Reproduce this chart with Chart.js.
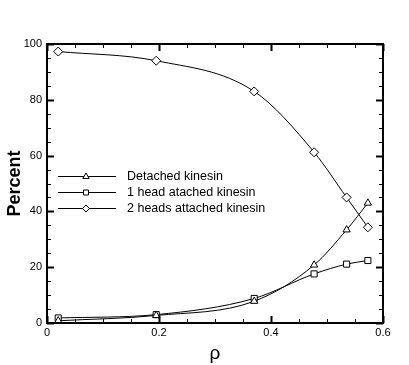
<!DOCTYPE html>
<html>
<head>
<meta charset="utf-8">
<script src="https://cdn.jsdelivr.net/npm/chart.js@4.4.0/dist/chart.umd.min.js"></script>
<style>
  html, body { margin: 0; padding: 0; background: #fff; }
</style>
</head>
<body>
<canvas id="grafico" width="409" height="365"></canvas>
<script>
// dados
const rho = [0.02, 0.195, 0.37, 0.477, 0.535, 0.573];
const detached = [0.8, 2.7, 7.8, 20.8, 33.4, 43.0];
const oneHead = [1.8, 3.0, 8.8, 17.6, 21.1, 22.4];
const twoHeads = [97.3, 94.0, 83.0, 61.2, 45.0, 34.3];
const seriesNames = ["Detached kinesin", "1 head atached kinesin", "2 heads attached kinesin"];
const xTicks = [0, 0.2, 0.4, 0.6];
const yTicks = [0, 20, 40, 60, 80, 100];

const FONT = "'Liberation Sans', Arial, sans-serif";

function pontos(ys) {
    return rho.map((x, i) => ({ x: x, y: ys[i] }));
}

function serie(label, ys, style, radius) {
    return {
        label: label,
        data: pontos(ys),
        showLine: true,
        borderColor: "#000",
        borderWidth: 1,
        backgroundColor: "#fff",
        pointStyle: style,
        pointRadius: radius,
        pointBorderWidth: 1,
        pointBorderColor: "#000",
        pointBackgroundColor: "#fff",
        cubicInterpolationMode: "monotone"
    };
}

// marcador pequeno para a legenda
function desenhaMarcador(ctx, style, x, y) {
    ctx.beginPath();
    if (style === "triangle") {
        ctx.moveTo(x, y - 3.5);
        ctx.lineTo(x + 3.2, y + 2);
        ctx.lineTo(x - 3.2, y + 2);
        ctx.closePath();
    } else if (style === "rect") {
        ctx.rect(x - 2.5, y - 2.5, 5, 5);
    } else {
        ctx.moveTo(x, y - 3.5);
        ctx.lineTo(x + 3.5, y);
        ctx.lineTo(x, y + 3.5);
        ctx.lineTo(x - 3.5, y);
        ctx.closePath();
    }
    ctx.fillStyle = "#fff";
    ctx.fill();
    ctx.stroke();
}

// moldura e ticks para dentro, nos quatro lados
const molduraPlugin = {
    id: "moldura",
    afterDraw(chart) {
        const ctx = chart.ctx;
        const a = chart.chartArea;
        const sx = chart.scales.x;
        const sy = chart.scales.y;
        ctx.save();
        ctx.strokeStyle = "#000";

        for (let v = 0; v <= 0.6001; v += 0.05) {
            const px = Math.round(sx.getPixelForValue(v)) + 0.5;
            const major = xTicks.some(t => Math.abs(t - v) < 1e-6);
            const len = major ? 7 : 4;
            ctx.lineWidth = major ? 2 : 1;
            ctx.beginPath();
            ctx.moveTo(px, a.bottom); ctx.lineTo(px, a.bottom - len);
            ctx.moveTo(px, a.top); ctx.lineTo(px, a.top + len);
            ctx.stroke();
        }
        for (let v = 0; v <= 100.001; v += 5) {
            const py = Math.round(sy.getPixelForValue(v)) + 0.5;
            const major = yTicks.includes(Math.round(v));
            const len = major ? 7 : 4;
            ctx.lineWidth = major ? 2 : 1;
            ctx.beginPath();
            ctx.moveTo(a.left, py); ctx.lineTo(a.left + len, py);
            ctx.moveTo(a.right, py); ctx.lineTo(a.right - len, py);
            ctx.stroke();
        }

        ctx.lineWidth = 2;
        ctx.strokeRect(a.left, a.top, a.right - a.left, a.bottom - a.top);

        // legenda dentro do gráfico
        const estilos = ["triangle", "rect", "rectRot"];
        ctx.lineWidth = 1;
        ctx.font = "12.5px " + FONT;
        ctx.textBaseline = "middle";
        seriesNames.forEach((nome, i) => {
            const y = 176.5 + i * 16;
            ctx.beginPath();
            ctx.moveTo(58, y); ctx.lineTo(116, y);
            ctx.stroke();
            desenhaMarcador(ctx, estilos[i], 86, y);
            ctx.fillStyle = "#000";
            ctx.fillText(nome, 127, y);
        });
        ctx.restore();
    }
};

new Chart(document.getElementById("grafico"), {
    type: "scatter",
    data: {
        datasets: [
            serie(seriesNames[0], detached, "triangle", 4.2),
            serie(seriesNames[1], oneHead, "rect", 4.3),
            serie(seriesNames[2], twoHeads, "rectRot", 4.5)
        ]
    },
    options: {
        responsive: false,
        animation: false,
        devicePixelRatio: 1,
        layout: { padding: { left: 0, top: 44, right: 26, bottom: 0 } },
        plugins: { legend: { display: false }, tooltip: { enabled: false } },
        scales: {
            x: {
                type: "linear",
                min: 0,
                max: 0.6,
                afterBuildTicks: s => { s.ticks = xTicks.map(v => ({ value: v })); },
                afterFit: s => { s.height = 42; },
                grid: { display: false, drawTicks: false },
                border: { display: false },
                ticks: {
                    color: "#000",
                    padding: 3,
                    maxRotation: 0,
                    font: { family: FONT, size: 11 },
                    callback: v => String(Number(v.toFixed(2)))
                },
                title: {
                    display: true,
                    text: "ρ",
                    color: "#000",
                    font: { family: FONT, size: 19 },
                    padding: { top: 2, bottom: 0 }
                }
            },
            y: {
                type: "linear",
                min: 0,
                max: 100,
                afterBuildTicks: s => { s.ticks = yTicks.map(v => ({ value: v })); },
                afterFit: s => { s.width = 47; },
                grid: { display: false, drawTicks: false },
                border: { display: false },
                ticks: {
                    color: "#000",
                    padding: 5,
                    font: { family: FONT, size: 11 }
                },
                title: {
                    display: true,
                    text: "Percent",
                    color: "#000",
                    font: { family: FONT, size: 18, weight: "bold" },
                    padding: { top: 4, bottom: 0 }
                }
            }
        }
    },
    plugins: [molduraPlugin]
});
</script>
</body>
</html>
